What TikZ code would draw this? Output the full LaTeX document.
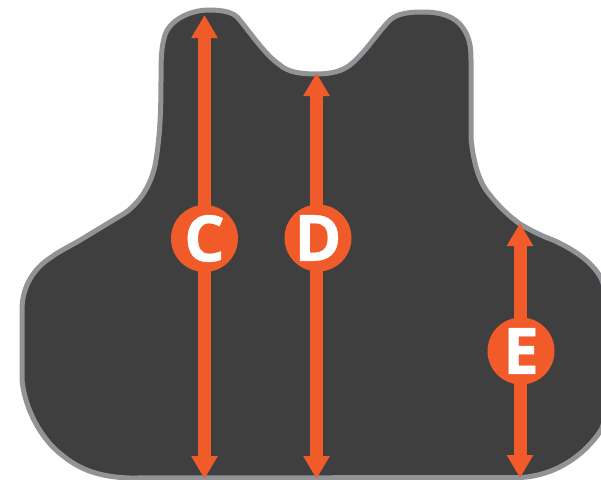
\documentclass[tikz,border=0pt]{standalone}
\usepackage{fontspec}
\setmainfont{Open Sans}[BoldFeatures={FakeBold=0.6}]
\usetikzlibrary{arrows.meta}
\definecolor{vest}{HTML}{3F3F3F}
\definecolor{rim}{HTML}{929397}
\definecolor{mark}{HTML}{F15A29}
\tikzset{
  vestshape/.style={fill=vest,draw=rim,line width=5pt,line join=round},
  badge/.style={circle,fill=mark,text=white,minimum size=67pt,inner sep=0pt,font=\fontsize{64}{64}\selectfont\bfseries},
  dimline/.style={draw=mark,line width=13pt,shorten <=-2pt,-{Triangle[length=23pt,width=25pt]}}
}
\begin{document}
\begin{tikzpicture}[x=1pt,y=-1pt]
\useasboundingbox (0,0) rectangle (601,479);
\clip (0,0) rectangle (601,479);
\draw[vestshape] (161,80) .. controls (161,60) and (161,48) .. (165,35)
 .. controls (170,20) and (190,10) .. (209,10)
 .. controls (222,10) and (233,12) .. (238,18)
 .. controls (250,32) and (265,55) .. (280,65)
 .. controls (288,72) and (300,74) .. (316,74)
 .. controls (332,74) and (342,71) .. (350,65)
 .. controls (365,53) and (378,32) .. (390,20)
 .. controls (398,13) and (410,12) .. (423,12)
 .. controls (440,12) and (455,16) .. (463,28)
 .. controls (470,38) and (471,48) .. (471,60)
 -- (471,138)
 .. controls (473,160) and (478,178) .. (486,190)
 .. controls (497,205) and (510,217) .. (520,224)
 .. controls (535,233) and (545,237) .. (553,240)
 .. controls (575,250) and (592,262) .. (601,278)
 .. controls (612,300) and (612,410) .. (601,430)
 .. controls (585,455) and (555,476) .. (520,477.5)
 -- (130,478)
 .. controls (100,477) and (80,470) .. (62,455)
 .. controls (42,440) and (25,410) .. (22,380)
 -- (22,310)
 .. controls (22,285) and (35,268) .. (50,258)
 .. controls (58,252) and (68,247) .. (77,242)
 -- (125,213)
 .. controls (143,200) and (153,180) .. (156,160)
 .. controls (160,135) and (161,110) .. (161,80) -- cycle;
\coordinate (ctop) at (204.5,15);
\coordinate (cbot) at (204.5,479);
\coordinate (dtop) at (316.5,73);
\coordinate (dbot) at (316.5,479);
\coordinate (etop) at (520,223);
\coordinate (ebot) at (520,478);
\node[badge] (c) at (204.5,238.5) {C};
\node[badge] (d) at (318,238) {D};
\node[badge] (e) at (521,351) {E};
\draw[dimline] (ctop |- c.north) -- (ctop);
\draw[dimline] (cbot |- c.south) -- (cbot);
\draw[dimline] (dtop |- d.north) -- (dtop);
\draw[dimline] (dbot |- d.south) -- (dbot);
\draw[dimline] (etop |- e.north) -- (etop);
\draw[dimline] (ebot |- e.south) -- (ebot);
\end{tikzpicture}
\end{document}
